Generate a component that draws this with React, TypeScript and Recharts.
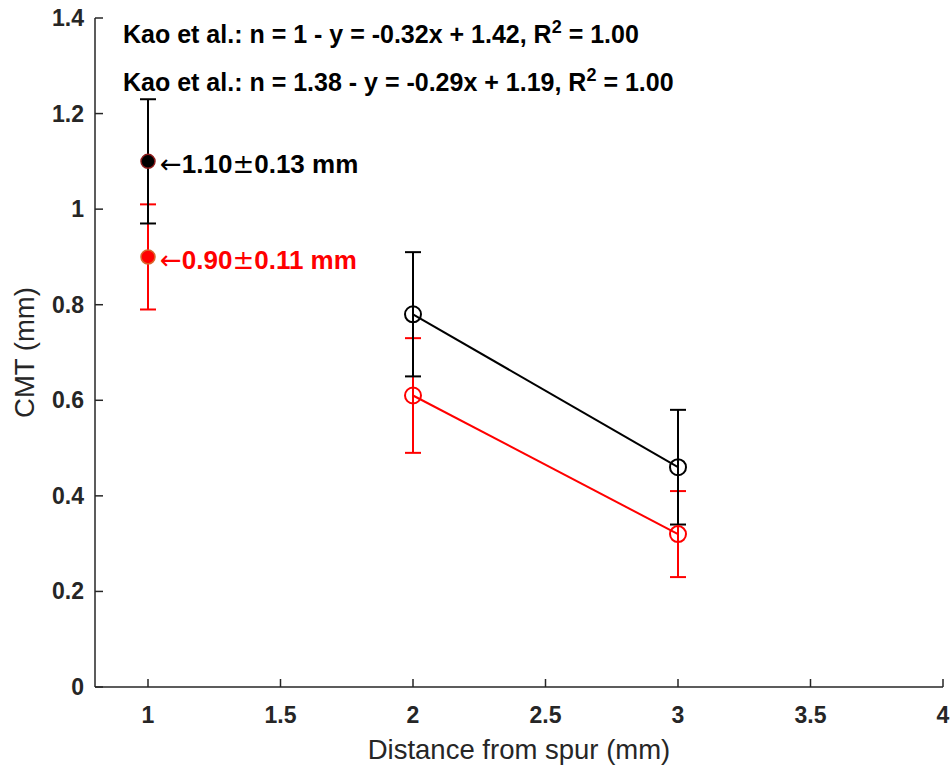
import React from "react";
import { ComposedChart, Scatter, XAxis, YAxis, ErrorBar, Label } from "recharts";

const distance = [1, 2, 3];
const cmtBlack = [1.1, 0.78, 0.46];
const sdBlack = [0.13, 0.13, 0.12];
const cmtRed = [0.9, 0.61, 0.32];
const sdRed = [0.11, 0.12, 0.09];
const startNotes = ["←1.10±0.13 mm", "←0.90±0.11 mm"];
const fitLabels = [
  { pre: "Kao et al.: n = 1 - y = -0.32x + 1.42, R", post: " = 1.00" },
  { pre: "Kao et al.: n = 1.38 - y = -0.29x + 1.19, R", post: " = 1.00" },
];
const xTicks = [1, 1.5, 2, 2.5, 3, 3.5, 4];
const yTicks = [0, 0.2, 0.4, 0.6, 0.8, 1, 1.2, 1.4];
const xTitle = "Distance from spur (mm)";
const yTitle = "CMT (mm)";

const build = (ys: number[], es: number[], idx: number[], note?: string) =>
  idx.map((i) => ({ x: distance[i], y: ys[i], err: es[i], note }));

const blackStart = build(cmtBlack, sdBlack, [0], startNotes[0]);
const blackRest = build(cmtBlack, sdBlack, [1, 2]);
const redStart = build(cmtRed, sdRed, [0], startNotes[1]);
const redRest = build(cmtRed, sdRed, [1, 2]);

const FONT = "'Liberation Sans', Arial, sans-serif";
const SYM_FONT = "'DejaVu Sans', sans-serif";
const AX = "#262626";
const W = 952;
const H = 767;
const M = { top: 18, right: 9, bottom: 0, left: 0 };
const YW = 95;
const XH = 80;
const plotLeft = M.left + YW;
const plotTop = M.top;

const XTick = (p: any) => {
  const { x, y, payload } = p;
  return (
    <g>
      <line x1={x} y1={y} x2={x} y2={y - 8} stroke={AX} strokeWidth={1.5} />
      <text x={x} y={y + 36} textAnchor="middle" fill={AX} fontSize={23} fontWeight="bold" fontFamily={FONT}>
        {String(payload.value)}
      </text>
    </g>
  );
};

const YTick = (p: any) => {
  const { x, y, payload } = p;
  return (
    <g>
      <line x1={x} y1={y} x2={x + 8} y2={y} stroke={AX} strokeWidth={1.5} />
      <text x={x - 11} y={y + 8} textAnchor="end" fill={AX} fontSize={23} fontWeight="bold" fontFamily={FONT}>
        {String(payload.value)}
      </text>
    </g>
  );
};

const openCircle = (color: string) => (p: any) => (
  <circle cx={p.cx} cy={p.cy} r={8} fill="none" stroke={color} strokeWidth={2} />
);

const renderNote = (note: string) =>
  note.split(/([←±])/).filter((s) => s.length > 0).map((s, i) =>
    s === "←" || s === "±" ? (
      <tspan key={i} fontFamily={SYM_FONT} fontWeight="normal">
        {s}
      </tspan>
    ) : (
      <tspan key={i}>{s}</tspan>
    )
  );

const filledCircle = (fill: string, edge: string, textColor: string) => (p: any) => (
  <g>
    <circle cx={p.cx} cy={p.cy} r={7} fill={fill} stroke={edge} strokeWidth={1.5} />
    <text x={p.cx + 12} y={p.cy + 12} fill={textColor} fontSize={26} fontWeight="bold" fontFamily={FONT}>
      {renderNote(p.payload.note)}
    </text>
  </g>
);

export default function App() {
  return (
    <div style={{ position: "absolute", left: 0, top: 0, width: W, height: H, background: "#fff" }}>
      <ComposedChart width={W} height={H} margin={M}>
        <XAxis
          type="number"
          dataKey="x"
          domain={[0.8, 4]}
          ticks={xTicks}
          allowDataOverflow
          height={XH}
          tickSize={0}
          tickMargin={0}
          tickLine={false}
          axisLine={{ stroke: AX, strokeWidth: 1.5 }}
          tick={<XTick />}
        >
          <Label
            content={(props: any) => {
              const vb = props.viewBox;
              return (
                <text x={vb.x + vb.width / 2} y={vb.y + 72} textAnchor="middle" fill={AX} fontSize={27.5} fontFamily={FONT}>
                  {xTitle}
                </text>
              );
            }}
          />
        </XAxis>
        <YAxis
          type="number"
          dataKey="y"
          domain={[0, 1.4]}
          ticks={yTicks}
          allowDataOverflow
          width={YW}
          tickSize={0}
          tickMargin={0}
          tickLine={false}
          axisLine={{ stroke: AX, strokeWidth: 1.5 }}
          tick={<YTick />}
        >
          <Label
            content={(props: any) => {
              const vb = props.viewBox;
              const cx = 34;
              const cy = vb.y + vb.height / 2;
              return (
                <text x={cx} y={cy} transform={`rotate(-90 ${cx} ${cy})`} textAnchor="middle" fill={AX} fontSize={27.5} fontFamily={FONT}>
                  {yTitle}
                </text>
              );
            }}
          />
        </YAxis>

        <Scatter data={redRest} dataKey="y" isAnimationActive={false} line={{ stroke: "#ff0000", strokeWidth: 2 }} shape={openCircle("#ff0000")}>
          <ErrorBar dataKey="err" direction="y" width={8} stroke="#ff0000" strokeWidth={2} isAnimationActive={false} />
        </Scatter>
        <Scatter data={redStart} dataKey="y" isAnimationActive={false} shape={filledCircle("#ff0000", "#dc642c", "#ff0000")}>
          <ErrorBar dataKey="err" direction="y" width={8} stroke="#ff0000" strokeWidth={2} isAnimationActive={false} />
        </Scatter>
        <Scatter data={blackRest} dataKey="y" isAnimationActive={false} line={{ stroke: "#000", strokeWidth: 2 }} shape={openCircle("#000")}>
          <ErrorBar dataKey="err" direction="y" width={8} stroke="#000" strokeWidth={2} isAnimationActive={false} />
        </Scatter>
        <Scatter data={blackStart} dataKey="y" isAnimationActive={false} shape={filledCircle("#000", "#8e1c1c", "#000")}>
          <ErrorBar dataKey="err" direction="y" width={8} stroke="#000" strokeWidth={2} isAnimationActive={false} />
        </Scatter>

        {fitLabels.map((f, i) => (
          <text key={i} x={plotLeft + 28} y={plotTop + 25 + i * 48} fill="#000" fontSize={25} fontWeight="bold" fontFamily={FONT}>
            {f.pre}
            <tspan fontSize={18} dy={-10}>2</tspan>
            <tspan dy={10}>{f.post}</tspan>
          </text>
        ))}
      </ComposedChart>
    </div>
  );
}
